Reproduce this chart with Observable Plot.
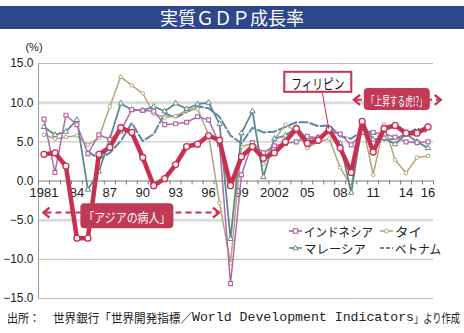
<!DOCTYPE html>
<html><head><meta charset="utf-8">
<script src="https://cdn.jsdelivr.net/npm/d3@7"></script>
<script src="https://cdn.jsdelivr.net/npm/@observablehq/plot@0.6"></script>
<style>
body{margin:0;background:#fff;}
#wrap{position:relative;width:464px;height:333px;overflow:hidden;}
#title{position:absolute;left:0;top:6px;width:464px;height:23px;background:#2e478b;color:#fff;font-family:"Noto Sans CJK JP",sans-serif;font-size:18px;line-height:23px;text-align:center;z-index:2;}
#chart{position:absolute;left:0;top:0;}
</style></head>
<body>
<div id="wrap"><div id="title">実質ＧＤＰ成長率</div><div id="chart"></div></div>
<script>
const years = [1981,1982,1983,1984,1985,1986,1987,1988,1989,1990,1991,1992,1993,1994,1995,1996,1997,1998,1999,2000,2001,2002,2003,2004,2005,2006,2007,2008,2009,2010,2011,2012,2013,2014,2015,2016];
const philippines = [3.4,3.6,1.9,-7.3,-7.3,3.4,4.3,6.8,6.2,3.0,-0.6,0.3,2.1,4.4,4.7,5.8,5.2,-0.6,3.1,4.4,2.9,3.6,5.0,6.7,4.8,5.2,6.6,4.2,1.1,7.6,3.7,6.7,7.1,6.1,6.1,6.9];
const indonesia = [7.9,1.1,8.4,7.2,3.5,5.9,5.3,6.4,9.1,9.0,8.9,7.2,7.3,7.5,8.2,7.8,4.7,-13.1,0.8,4.9,3.6,4.5,4.8,5.0,5.7,5.5,6.3,6.0,4.6,6.2,6.2,6.0,5.6,5.0,4.9,5.0];
const thailand = [5.9,5.4,5.6,5.8,4.6,5.5,9.5,13.3,12.2,11.2,8.6,8.1,8.3,9.0,9.2,5.9,-2.8,-10.5,4.4,4.8,2.2,5.3,7.2,6.3,4.2,5.0,5.4,1.7,-0.7,7.5,0.8,7.2,2.7,1.0,3.0,3.2];
const malaysia = [6.9,5.9,6.3,7.8,-1.1,1.2,5.4,9.9,9.1,9.0,9.5,8.9,9.9,9.2,9.8,10.0,7.3,-7.4,6.1,8.9,0.5,5.4,5.8,6.8,5.3,5.6,6.3,4.8,-1.5,7.4,5.3,5.5,4.7,6.0,5.0,4.2];
const vietnam = [null,null,null,null,3.8,2.8,3.6,5.1,7.4,5.1,6.0,8.6,8.1,8.8,9.5,9.3,8.2,5.8,4.8,6.8,6.2,6.3,6.9,7.5,7.5,7.0,7.1,5.7,5.4,6.4,6.2,5.2,5.4,6.0,6.7,6.2];
const seriesNames = ["インドネシア","タイ","マレーシア","ベトナム"];
const yTicks = [15,10,5,0,-5,-10,-15];
const gridThin = [15,5,-10,-15];
const gridWide = [10,-5];
const xLabelYears = [1981,1984,1987,1990,1993,1996,1999,2002,2005,2008,2011,2014,2016];
const xLabelText = ["1981","84","87","90","93","96","99","2002","05","08","11","14","16"];

const C = {ph:"#c8304f", id:"#b26aab", th:"#b2a67b", my:"#5e8b89", vn:"#5a87a8", box:"#c03a56", axis:"#7a7a7a"};
const rows = vals => years.map((year,i)=>({year, value: vals[i]})).filter(d => d.value != null);
const tickBounds = years.map(y => y - 0.5).concat([years[years.length-1] + 0.5]);

const plot = Plot.plot({
  width:464, height:333, marginLeft:38, marginRight:31, marginTop:63, marginBottom:35,
  x:{domain:[1980.5,2016.5], axis:null},
  y:{domain:[-15,15], axis:null},
  style:{background:"transparent", fontFamily:"'Liberation Sans', Arial, sans-serif", overflow:"visible"},
  marks:[
    Plot.ruleY(gridThin, {stroke:"#bdbdbd", strokeWidth:1}),
    Plot.ruleY(gridWide, {stroke:"#dcdcdc", strokeWidth:3}),
    Plot.ruleX([1980.5], {y1:-15, y2:15, stroke:"#9a9a9a"}),
    Plot.axisY(yTicks, {tickSize:0, tickPadding:5, label:null, fontSize:12, fill:"#222",
      tickFormat: d => (d < 0 ? "−" : "") + Math.abs(d).toFixed(1)}),
    Plot.ruleY([0], {stroke:C.axis}),
    Plot.ruleX(tickBounds, {x:d=>d, y1:0, y2:-0.5, stroke:C.axis}),
    Plot.text(xLabelYears, {x:d=>d, y:0, text:(d,i)=>xLabelText[i], dy:12, fontSize:13, fill:"#222"}),
    Plot.line(rows(vietnam), {x:"year", y:"value", stroke:C.vn, strokeWidth:2, strokeDasharray:"8,3"}),
    Plot.line(rows(thailand), {x:"year", y:"value", stroke:C.th, strokeWidth:1.5}),
    Plot.dot(rows(thailand), {x:"year", y:"value", r:1.8, fill:"white", stroke:C.th, strokeWidth:1}),
    Plot.line(rows(malaysia), {x:"year", y:"value", stroke:C.my, strokeWidth:1.8}),
    Plot.dot(rows(malaysia), {x:"year", y:"value", symbol:"triangle", r:2, fill:"white", stroke:C.my, strokeWidth:1}),
    Plot.line(rows(indonesia), {x:"year", y:"value", stroke:C.id, strokeWidth:1.5}),
    Plot.dot(rows(indonesia), {x:"year", y:"value", symbol:"square", r:2.2, fill:"white", stroke:C.id, strokeWidth:1.2}),
    Plot.line(rows(philippines), {x:"year", y:"value", stroke:C.ph, strokeWidth:4.5, strokeLinejoin:"round"}),
    Plot.dot(rows(philippines), {x:"year", y:"value", r:3, fill:"#fff5f7", stroke:C.ph, strokeWidth:1.3})
  ]
});

const sx = v => plot.scale("x").apply(v), sy = v => plot.scale("y").apply(v);
const svg = d3.select(plot);
const JP = "'Noto Sans CJK JP', sans-serif";

svg.append("text").attr("x",34).attr("y",47).attr("text-anchor","middle").attr("dominant-baseline","central")
  .attr("font-size",11).attr("font-family","'Liberation Sans', Arial").attr("fill","#222").text("(%)");

svg.selectAll("text").style("font-variant-numeric","proportional-nums");

function chevron(g, x, y, dir, color){
  g.append("path").attr("d",`M${x+dir*6},${y-5}L${x},${y}L${x+dir*6},${y+5}`)
   .attr("fill","none").attr("stroke",color).attr("stroke-width",2.4);
}
function span(x1, x2, y){
  const g = svg.append("g");
  g.append("line").attr("x1",x1+2).attr("x2",x2-2).attr("y1",y).attr("y2",y)
   .attr("stroke",C.ph).attr("stroke-width",2).attr("stroke-dasharray","6,4");
  chevron(g, x1, y, 1, C.ph); chevron(g, x2, y, -1, C.ph);
}
function box(cx, cy, w, h, label, fs, tl, fill, stroke, color){
  const g = svg.append("g");
  g.append("rect").attr("x",cx-w/2).attr("y",cy-h/2).attr("width",w).attr("height",h).attr("rx",fill==="white"?0:4)
   .attr("fill",fill).attr("stroke",stroke||"none").attr("stroke-width",2);
  g.append("text").attr("x",cx-tl/2).attr("y",cy+1).attr("text-anchor","start").attr("dominant-baseline","central")
   .attr("font-family",JP).attr("font-size",fs).attr("fill",color)
   .attr("textLength",tl).attr("lengthAdjust","spacingAndGlyphs").text(label);
}
span(sx(1981), sx(1997), sy(-4.1));
box(sx(1988.6), sy(-4.5), 93, 25, "「アジアの病人」", 13, 87, C.box, null, "#fff");
span(sx(2009.3), sx(2017.2), sy(10.3));
box(sx(2013.2), sy(10.4), 66, 22, "「上昇する虎!?」", 12.5, 60, C.box, null, "#fff");
svg.append("line").attr("x1",sx(2006.4)).attr("y1",sy(12.6)+10).attr("x2",sx(2007)).attr("y2",sy(6.6))
  .attr("stroke",C.ph).attr("stroke-width",1);
box(sx(2006.0), sy(12.6), 67, 20, "フィリピン", 14, 53, "white", C.ph, "#111");

const legendItems = [
  {label:seriesNames[0], color:C.id, sym:"square", x:289, y:231, tl:69},
  {label:seriesNames[1], color:C.th, sym:"circle", x:380, y:231, tl:27},
  {label:seriesNames[2], color:C.my, sym:"triangle", x:289, y:248, tl:62},
  {label:seriesNames[3], color:C.vn, sym:"dash", x:380, y:248, tl:46}
];
const lg = svg.append("g");
legendItems.forEach(it => {
  const l = lg.append("line").attr("x1",it.x).attr("x2",it.x+13).attr("y1",it.y).attr("y2",it.y)
    .attr("stroke",it.color).attr("stroke-width",it.sym==="dash"?2:1.6);
  if (it.sym==="dash") l.attr("stroke-dasharray","4,2");
  const mx = it.x+6.5;
  if (it.sym==="square") lg.append("rect").attr("x",mx-2.2).attr("y",it.y-2.2).attr("width",4.4).attr("height",4.4).attr("fill","white").attr("stroke",it.color).attr("stroke-width",1.2);
  if (it.sym==="circle") lg.append("circle").attr("cx",mx).attr("cy",it.y).attr("r",2).attr("fill","white").attr("stroke",it.color);
  if (it.sym==="triangle") lg.append("path").attr("d",`M${mx},${it.y-2.8}L${mx+2.6},${it.y+1.8}L${mx-2.6},${it.y+1.8}Z`).attr("fill","white").attr("stroke",it.color);
  lg.append("text").attr("x",it.x+15).attr("y",it.y+0.5).attr("text-anchor","start").attr("dominant-baseline","central")
    .attr("font-family",JP).attr("font-size",12.5).attr("fill","#222")
    .attr("textLength",it.tl).attr("lengthAdjust","spacingAndGlyphs").text(it.label);
});

const cap = svg.append("g").attr("fill","#222");
const capParts = [
  {t:"出所：", x:7, tl:33, f:JP, fs:12.5},
  {t:"世界銀行「世界開発指標／", x:53, tl:139, f:JP, fs:12.5},
  {t:"World Development Indicators", x:192, tl:222, f:"'Liberation Mono', 'DejaVu Sans Mono', monospace", fs:13},
  {t:"」より作成", x:414, tl:46, f:JP, fs:12.5}
];
capParts.forEach(p => cap.append("text").attr("x",p.x).attr("y",317).attr("text-anchor","start").attr("dominant-baseline","central")
  .attr("font-family",p.f).attr("font-size",p.fs).attr("textLength",p.tl).attr("lengthAdjust","spacingAndGlyphs").text(p.t));

document.getElementById("chart").appendChild(plot);
</script>
</body></html>
